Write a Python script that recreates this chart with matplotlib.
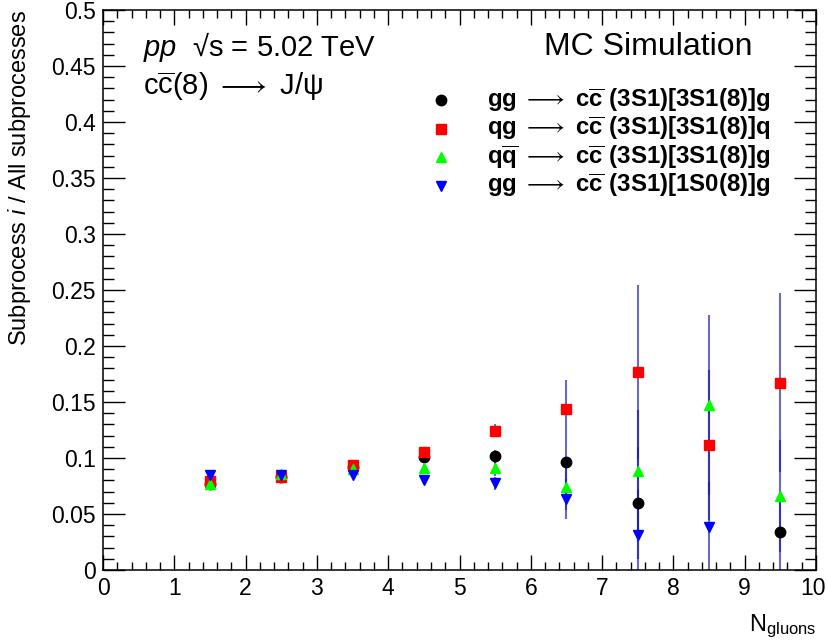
import numpy as np
import matplotlib
matplotlib.use("Agg")
import matplotlib.pyplot as plt
from matplotlib.ticker import MultipleLocator, FuncFormatter

plt.rcParams['font.family'] = ['Liberation Sans', 'DejaVu Sans']
plt.rcParams['mathtext.fontset'] = 'custom'
plt.rcParams['mathtext.rm'] = 'Liberation Sans'
plt.rcParams['mathtext.it'] = 'Liberation Sans:italic'
plt.rcParams['mathtext.bf'] = 'Liberation Sans:bold'
plt.rcParams['mathtext.fallback'] = 'stixsans'

# data (bin centres in N_gluons)
n_gluons = [1.5, 2.5, 3.5, 4.5, 5.5, 6.5, 7.5, 8.5, 9.5]

gg_3s1 = [0.077, 0.083, 0.092, 0.1006, 0.1015, 0.0961, 0.060, np.nan, 0.0342]
gg_3s1_err = [0.002, 0.002, 0.003, 0.004, 0.006, 0.022, 0.050, np.nan, 0.035]

qg_3s1 = [0.0798, 0.0833, 0.0938, 0.1057, 0.1244, 0.1437, 0.177, 0.1116, 0.1673]
qg_3s1_err = [0.002, 0.002, 0.003, 0.004, 0.006, 0.026, 0.0775, 0.067, 0.080]

qq_3s1 = [0.0768, 0.0857, 0.090, 0.0908, 0.0908, 0.0738, 0.0887, 0.1473, 0.066]
qq_3s1_err = [0.002, 0.002, 0.003, 0.004, 0.007, 0.020, 0.054, 0.080, 0.050]

gg_1s0 = [0.085, 0.085, 0.085, 0.0804, 0.0774, 0.0634, 0.031, 0.0387, np.nan]
gg_1s0_err = [0.002, 0.002, 0.003, 0.004, 0.006, 0.018, 0.040, 0.040, np.nan]

labels = [
    r'gg $\longrightarrow$ $\mathbf{c\overline{c}}$ (3S1)[3S1(8)]g',
    r'qg $\longrightarrow$ $\mathbf{c\overline{c}}$ (3S1)[3S1(8)]q',
    r'$\mathbf{q\overline{q}}$ $\longrightarrow$ $\mathbf{c\overline{c}}$ (3S1)[3S1(8)]g',
    r'gg $\longrightarrow$ $\mathbf{c\overline{c}}$ (3S1)[1S0(8)]g',
]

series = [
    (gg_3s1, gg_3s1_err, 'o', 'black', 7.5),
    (qg_3s1, qg_3s1_err, 's', '#ff0000', 7.0),
    (qq_3s1, qq_3s1_err, '^', '#00ff00', 7.5),
    (gg_1s0, gg_1s0_err, 'v', '#0000ff', 7.5),
]
err_color = '#1a1aa0'
x_max = 10

fig = plt.figure(figsize=(8.27, 6.43), dpi=100)
ax = fig.add_axes([103 / 827, 1 - 570 / 643, 713 / 827, 560 / 643])

for vals, errs, mk, col, ms in series:
    ax.errorbar(n_gluons, vals, yerr=errs, fmt=mk, color=col, ms=ms,
                mec=col, ecolor=err_color, elinewidth=1.5, capsize=0)
# error bars slightly see-through so overlaps get darker
for coll in ax.collections:
    coll.set_alpha(0.65)

ax.set_xlim(0, x_max)
ax.set_ylim(0, 0.5)
ax.xaxis.set_major_locator(MultipleLocator(1))
ax.xaxis.set_minor_locator(MultipleLocator(0.2))
ax.yaxis.set_major_locator(MultipleLocator(0.05))
ax.yaxis.set_minor_locator(MultipleLocator(0.01))
# last x label is drawn separately so it stays inside the canvas
ax.xaxis.set_major_formatter(
    FuncFormatter(lambda v, p: '' if v >= x_max else f"{v:g}"))
ax.yaxis.set_major_formatter(FuncFormatter(lambda v, p: f"{v:g}"))
ax.tick_params(which='both', direction='in', top=True, right=True,
               labelsize=16.5, width=1.0, pad=5)
ax.tick_params(axis='y', which='major', length=16)
ax.tick_params(axis='y', which='minor', length=8)
ax.tick_params(axis='x', which='major', length=11)
ax.tick_params(axis='x', which='minor', length=5.5)
for sp in ax.spines.values():
    sp.set_linewidth(1.1)

ax.annotate(f"{x_max:g}", xy=(1, 0), xycoords='axes fraction',
            xytext=(7, -5), textcoords='offset points',
            ha='right', va='top', fontsize=16.5)

# axis titles, ROOT style (aligned to the axis ends)
fig.text(20 / 827, 1 - 10 / 643, r'Subprocess $i$ / All subprocesses',
         rotation=90, ha='center', va='top', fontsize=17)
fig.text(816 / 827, 1 - 640 / 643, r'N$_{\mathrm{gluons}}$',
         ha='right', va='bottom', fontsize=17)

# header text
ax.text((143 - 103) / 713, (570 - 47) / 560,
        r'$pp$  √s = 5.02 TeV',
        transform=ax.transAxes, fontsize=21, va='center')
ax.text((143 - 103) / 713, (570 - 86) / 560,
        r'c$\overline{\mathrm{c}}$(8) $\longrightarrow$ J/$\mathrm{\psi}$',
        transform=ax.transAxes, fontsize=21, va='center')
ax.text((752 - 103) / 713, (570 - 47) / 560, 'MC Simulation',
        transform=ax.transAxes, fontsize=23, va='center', ha='right')

# legend, drawn by hand so the layout matches the reference
leg_x_mark = (441 - 103) / 713
leg_x_text = (487 - 103) / 713
for i, ((vals, errs, mk, col, ms), lab) in enumerate(zip(series, labels)):
    yy = (570 - (100 + 28.5 * i)) / 560
    ax.plot([leg_x_mark], [yy], marker=mk, color=col, mec=col, ms=ms,
            transform=ax.transAxes, clip_on=False, ls='none')
    ax.text(leg_x_text, yy, lab, transform=ax.transAxes, fontsize=17.3,
            fontweight='bold', va='center', ha='left')

fig.savefig("out.png", dpi=100)
